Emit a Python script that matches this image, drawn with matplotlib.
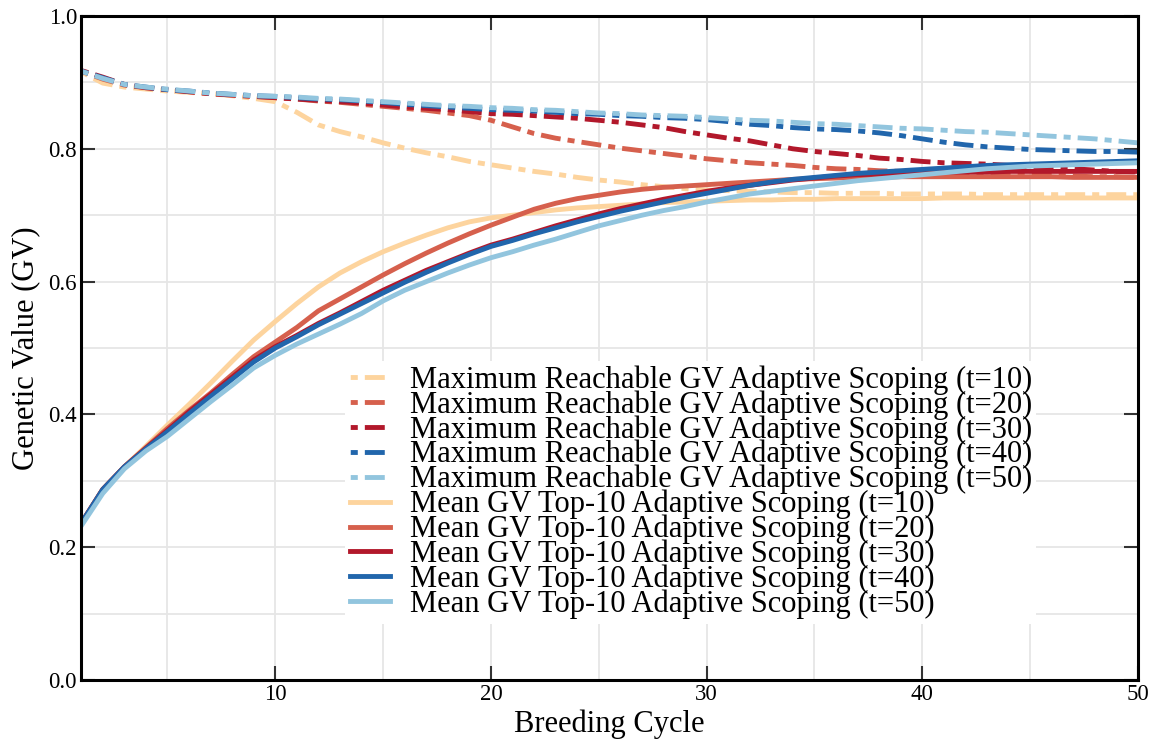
import matplotlib
matplotlib.use("Agg")
import matplotlib.pyplot as plt
from matplotlib.ticker import MultipleLocator

plt.rcParams["font.family"] = ["Liberation Serif", "DejaVu Serif"]

cycles = list(range(1, 51))
horizons = [10, 20, 30, 40, 50]
colors = ["#fdd49e", "#d6604d", "#b2182b", "#2166ac", "#92c5de"]

max_t10 = [0.916, 0.899, 0.893, 0.890, 0.887, 0.885, 0.883, 0.880, 0.876, 0.871,
           0.855, 0.836, 0.826, 0.818, 0.809, 0.801, 0.794, 0.788, 0.781, 0.776,
           0.771, 0.766, 0.762, 0.757, 0.753, 0.750, 0.746, 0.743, 0.740, 0.738,
           0.737, 0.736, 0.735, 0.734, 0.734, 0.733, 0.733, 0.733, 0.732, 0.732,
           0.732, 0.732, 0.731, 0.731, 0.731, 0.731, 0.731, 0.731, 0.731, 0.731]
max_t20 = [0.917, 0.905, 0.896, 0.892, 0.889, 0.886, 0.883, 0.881, 0.879, 0.877,
           0.875, 0.872, 0.870, 0.867, 0.864, 0.861, 0.858, 0.854, 0.850, 0.843,
           0.833, 0.823, 0.816, 0.811, 0.806, 0.801, 0.797, 0.793, 0.789, 0.785,
           0.782, 0.779, 0.777, 0.775, 0.772, 0.770, 0.769, 0.767, 0.766, 0.765,
           0.764, 0.763, 0.762, 0.761, 0.760, 0.760, 0.759, 0.758, 0.758, 0.757]
max_t30 = [0.918, 0.908, 0.897, 0.892, 0.889, 0.886, 0.883, 0.881, 0.879, 0.877,
           0.875, 0.873, 0.871, 0.869, 0.866, 0.863, 0.861, 0.859, 0.856, 0.853,
           0.852, 0.850, 0.848, 0.846, 0.843, 0.840, 0.836, 0.832, 0.826, 0.821,
           0.816, 0.812, 0.806, 0.800, 0.796, 0.793, 0.790, 0.786, 0.784, 0.781,
           0.779, 0.778, 0.777, 0.775, 0.773, 0.771, 0.770, 0.768, 0.766, 0.765]
max_t40 = [0.917, 0.907, 0.897, 0.893, 0.889, 0.887, 0.884, 0.882, 0.880, 0.879,
           0.877, 0.875, 0.874, 0.872, 0.870, 0.867, 0.865, 0.863, 0.861, 0.859,
           0.858, 0.857, 0.855, 0.853, 0.852, 0.850, 0.849, 0.847, 0.846, 0.844,
           0.841, 0.837, 0.835, 0.832, 0.830, 0.829, 0.827, 0.824, 0.820, 0.815,
           0.810, 0.806, 0.803, 0.801, 0.799, 0.798, 0.797, 0.796, 0.796, 0.795]
max_t50 = [0.917, 0.906, 0.897, 0.893, 0.890, 0.887, 0.884, 0.882, 0.880, 0.879,
           0.878, 0.876, 0.875, 0.873, 0.871, 0.869, 0.867, 0.865, 0.864, 0.862,
           0.861, 0.859, 0.858, 0.856, 0.854, 0.853, 0.851, 0.850, 0.849, 0.847,
           0.845, 0.843, 0.842, 0.840, 0.838, 0.837, 0.835, 0.833, 0.831, 0.830,
           0.828, 0.826, 0.825, 0.823, 0.821, 0.819, 0.817, 0.815, 0.812, 0.809]

mean_t10 = [0.236, 0.287, 0.321, 0.352, 0.384, 0.415, 0.447, 0.480, 0.512, 0.540,
            0.567, 0.592, 0.613, 0.630, 0.645, 0.658, 0.670, 0.681, 0.690, 0.696,
            0.700, 0.704, 0.708, 0.711, 0.713, 0.715, 0.717, 0.719, 0.720, 0.721,
            0.722, 0.723, 0.723, 0.724, 0.724, 0.725, 0.725, 0.725, 0.725, 0.725,
            0.726, 0.726, 0.726, 0.726, 0.726, 0.726, 0.726, 0.726, 0.726, 0.726]
mean_t20 = [0.236, 0.287, 0.321, 0.350, 0.379, 0.406, 0.432, 0.460, 0.487, 0.509,
            0.531, 0.556, 0.574, 0.592, 0.610, 0.627, 0.643, 0.658, 0.672, 0.685,
            0.697, 0.709, 0.718, 0.725, 0.730, 0.735, 0.739, 0.742, 0.744, 0.746,
            0.748, 0.750, 0.752, 0.754, 0.755, 0.756, 0.757, 0.757, 0.758, 0.758,
            0.758, 0.758, 0.758, 0.758, 0.758, 0.758, 0.757, 0.757, 0.757, 0.757]
mean_t30 = [0.236, 0.287, 0.321, 0.349, 0.376, 0.404, 0.430, 0.456, 0.482, 0.502,
            0.519, 0.537, 0.553, 0.570, 0.587, 0.602, 0.617, 0.630, 0.643, 0.655,
            0.664, 0.674, 0.684, 0.693, 0.702, 0.710, 0.717, 0.724, 0.730, 0.736,
            0.741, 0.745, 0.749, 0.753, 0.756, 0.759, 0.761, 0.762, 0.763, 0.764,
            0.765, 0.765, 0.765, 0.766, 0.766, 0.766, 0.766, 0.766, 0.766, 0.766]
mean_t40 = [0.236, 0.287, 0.321, 0.348, 0.374, 0.401, 0.427, 0.453, 0.479, 0.500,
            0.517, 0.535, 0.551, 0.567, 0.583, 0.599, 0.614, 0.628, 0.641, 0.653,
            0.662, 0.672, 0.681, 0.690, 0.698, 0.706, 0.713, 0.720, 0.727, 0.733,
            0.739, 0.745, 0.750, 0.754, 0.757, 0.760, 0.763, 0.765, 0.767, 0.769,
            0.771, 0.773, 0.775, 0.776, 0.777, 0.778, 0.779, 0.780, 0.781, 0.782]
mean_t50 = [0.232, 0.281, 0.318, 0.345, 0.367, 0.393, 0.419, 0.444, 0.470, 0.489,
            0.506, 0.521, 0.536, 0.552, 0.571, 0.587, 0.600, 0.613, 0.625, 0.636,
            0.645, 0.655, 0.664, 0.674, 0.684, 0.692, 0.700, 0.707, 0.713, 0.720,
            0.726, 0.732, 0.736, 0.740, 0.744, 0.748, 0.752, 0.755, 0.758, 0.761,
            0.764, 0.767, 0.770, 0.772, 0.774, 0.775, 0.776, 0.777, 0.778, 0.779]

max_series = [max_t10, max_t20, max_t30, max_t40, max_t50]
mean_series = [mean_t10, mean_t20, mean_t30, mean_t40, mean_t50]

# dash-dot that starts on the dot, lengths in units of line width
DASH_DOT = (5.5, (4.1, 1.45, 1.45, 1.45))


def main() -> None:
    fig = plt.figure(figsize=(11.6, 7.46), dpi=100)
    ax = fig.add_axes([0.070, 0.0885, 0.911, 0.890])

    for t, values, color in zip(horizons, max_series, colors):
        ax.plot(cycles, values, linestyle=DASH_DOT, linewidth=3.5, color=color,
                label=f"Maximum Reachable GV Adaptive Scoping (t={t})")
    for t, values, color in zip(horizons, mean_series, colors):
        ax.plot(cycles, values, linestyle="-", linewidth=3.5, color=color,
                label=f"Mean GV Top-10 Adaptive Scoping (t={t})")

    ax.set_xlim(1, 50)
    ax.set_ylim(0, 1.0)
    ax.xaxis.set_major_locator(MultipleLocator(10))
    ax.xaxis.set_minor_locator(MultipleLocator(5))
    ax.yaxis.set_major_locator(MultipleLocator(0.2))
    ax.yaxis.set_minor_locator(MultipleLocator(0.1))
    ax.grid(True, which="both", color="#e6e6e6", linewidth=1.3)
    ax.set_axisbelow(True)
    ax.tick_params(which="major", direction="in", length=10, width=1.5,
                   color="#333333", top=True, right=True, labelsize=16.5, pad=3)
    ax.tick_params(which="minor", length=0)
    for spine in ax.spines.values():
        spine.set_linewidth(2.2)
        spine.set_color("black")

    ax.set_xlabel("Breeding Cycle", fontsize=22, labelpad=3)
    ax.set_ylabel("Genetic Value (GV)", fontsize=22, labelpad=6)

    leg = ax.legend(loc="lower left", bbox_to_anchor=(0.25, 0.085), borderaxespad=0,
                    fontsize=22, frameon=True, fancybox=False, framealpha=1,
                    edgecolor="none", facecolor="white", labelspacing=-0.15,
                    handlelength=1.3, handletextpad=0.65, borderpad=0.15)
    leg.get_frame().set_linewidth(0)

    fig.savefig("out.png", dpi=100)
    plt.close(fig)


if __name__ == "__main__":
    main()
